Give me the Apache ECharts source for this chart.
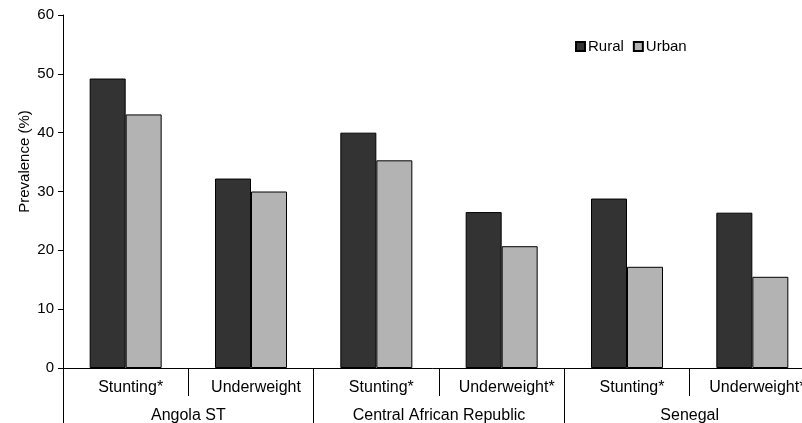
<!DOCTYPE html>
<html>
<head>
<meta charset="utf-8">
<script src="https://cdn.jsdelivr.net/npm/echarts@6/dist/echarts.min.js"></script>
<style>
  html, body { margin: 0; padding: 0; background: #fff; }
  #chart { width: 802px; height: 423px; }
</style>
</head>
<body>
<div id="chart"></div>
<script>
// Indicator for each bar group, and the country each pair belongs to
const indicators = ['Stunting*', 'Underweight', 'Stunting*', 'Underweight*', 'Stunting*', 'Underweight*'];
const countries = ['Angola ST', 'Central African Republic', 'Senegal'];

// Prevalence (%) by residence
const rural = [49.2, 32.2, 40.0, 26.5, 28.8, 26.4];
const urban = [43.1, 30.0, 35.3, 20.7, 17.2, 15.5];

const yTicks = { min: 0, max: 60, step: 10 };

const FONT = "'Liberation Sans', Arial, sans-serif";
const chart = echarts.init(document.getElementById('chart'), null, { renderer: 'canvas' });

chart.setOption({
  animation: false,
  backgroundColor: '#ffffff',
  textStyle: { fontFamily: FONT, color: '#000' },
  legend: {
    left: 575,
    top: 39,
    padding: 0,
    itemWidth: 9,
    itemHeight: 9,
    itemGap: 9,
    icon: 'rect',
    textStyle: { fontFamily: FONT, fontSize: 15, color: '#000', padding: [0, 0, 0, -2] },
    data: ['Rural', 'Urban']
  },
  grid: {
    left: 63,
    top: 15,
    width: 752,
    bottom: 55,
    outerBoundsMode: 'none',
    containLabel: false
  },
  xAxis: [
    {
      type: 'category',
      data: indicators,
      position: 'bottom',
      axisLine: { show: true, lineStyle: { color: '#000', width: 1 } },
      axisTick: { show: true, alignWithLabel: false, length: 28, lineStyle: { color: '#000', width: 1 } },
      axisLabel: {
        interval: 0,
        margin: 12,
        fontFamily: FONT,
        fontSize: 16,
        color: '#000',
        padding: [0, 0, 0, 10],
        hideOverlap: false
      },
      splitLine: { show: false }
    },
    {
      type: 'category',
      data: countries,
      position: 'bottom',
      axisLine: { show: false },
      axisTick: { show: true, alignWithLabel: false, length: 56, lineStyle: { color: '#000', width: 1 } },
      axisLabel: {
        interval: 0,
        margin: 40,
        fontFamily: FONT,
        fontSize: 16,
        color: '#000'
      },
      splitLine: { show: false }
    }
  ],
  yAxis: {
    type: 'value',
    min: yTicks.min,
    max: yTicks.max,
    interval: yTicks.step,
    name: 'Prevalence (%)',
    nameLocation: 'middle',
    nameRotate: 90,
    nameGap: 31,
    nameMoveOverlap: false,
    nameTextStyle: { fontFamily: FONT, fontSize: 15, color: '#000', padding: [0, 0, 0, 60] },
    axisLine: { show: true, lineStyle: { color: '#000', width: 1 } },
    axisTick: { show: true, inside: false, length: 5, lineStyle: { color: '#000', width: 1 } },
    axisLabel: { margin: 9, fontFamily: FONT, fontSize: 15, color: '#000' },
    splitLine: { show: false }
  },
  series: [
    {
      name: 'Rural',
      type: 'bar',
      xAxisIndex: 0,
      data: rural,
      barWidth: 36,
      barGap: '0%',
      itemStyle: { color: '#333333', borderColor: '#000', borderWidth: 1 }
    },
    {
      name: 'Urban',
      type: 'bar',
      xAxisIndex: 0,
      data: urban,
      barWidth: 36,
      barGap: '0%',
      itemStyle: { color: '#b3b3b3', borderColor: '#000', borderWidth: 1 }
    }
  ]
});
</script>
</body>
</html>
